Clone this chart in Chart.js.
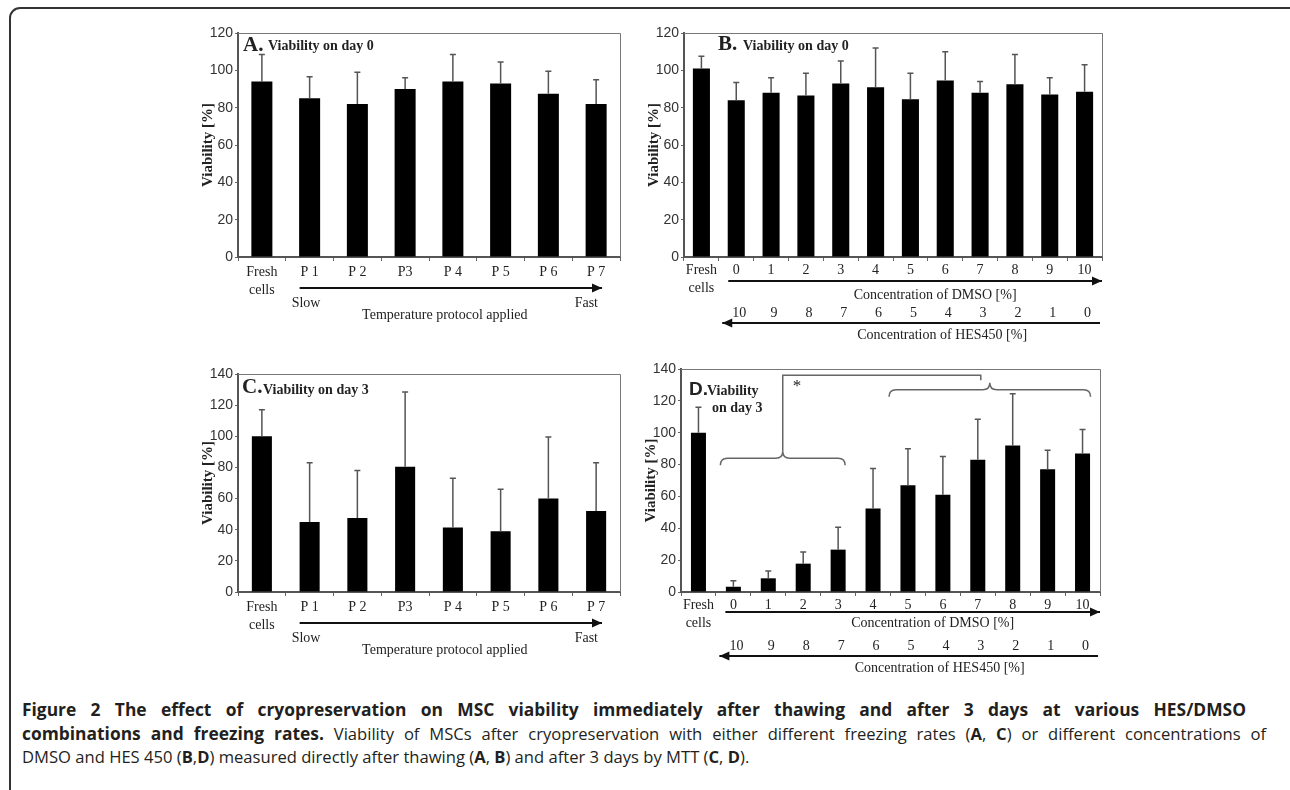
<!DOCTYPE html>
<html>
<head>
<meta charset="utf-8">
<script src="https://cdn.jsdelivr.net/npm/chart.js@4.4.1/dist/chart.umd.min.js"></script>
<style>
body{margin:0;background:#fff;width:1290px;height:790px;overflow:hidden;position:relative}
.frame{position:absolute;left:9px;top:7px;width:1310px;height:820px;border:2px solid #333;border-radius:11px}
.panel{position:absolute}
.caption{position:absolute;left:22px;top:698px;font-family:'Open Sans',sans-serif;font-size:16.6px;line-height:23.5px;color:#231f20;white-space:nowrap}
.caption b{font-size:17.4px}
.caption .j{text-align:justify;text-align-last:justify}
</style>
</head>
<body>
<div class="frame"></div>
<div class="panel" style="left:150px;top:0;width:480px;height:330px"><canvas id="panelA"></canvas></div>
<div class="panel" style="left:600px;top:0;width:520px;height:350px"><canvas id="panelB"></canvas></div>
<div class="panel" style="left:150px;top:340px;width:480px;height:320px"><canvas id="panelC"></canvas></div>
<div class="panel" style="left:600px;top:340px;width:520px;height:350px"><canvas id="panelD"></canvas></div>
<div class="caption">
<div class="j" style="width:1224px"><b>Figure 2 The effect of cryopreservation on MSC viability immediately after thawing and after 3 days at various HES/DMSO</b></div>
<div class="j" style="width:1244px"><b>combinations and freezing rates.</b> Viability of MSCs after cryopreservation with either different freezing rates (<b style="font-size:16.6px">A</b>, <b style="font-size:16.6px">C</b>) or different concentrations of</div>
<div>DMSO and HES 450 (<b style="font-size:16.6px">B</b>,<b style="font-size:16.6px">D</b>) measured directly after thawing (<b style="font-size:16.6px">A</b>, <b style="font-size:16.6px">B</b>) and after 3 days by MTT (<b style="font-size:16.6px">C</b>, <b style="font-size:16.6px">D</b>).</div>
</div>
<script>
// categories
const protocolLabels = [['Fresh', 'cells'], 'P 1', 'P 2', 'P3', 'P 4', 'P 5', 'P 6', 'P 7'];
const dmsoLabels = [['Fresh', 'cells'], '0', '1', '2', '3', '4', '5', '6', '7', '8', '9', '10'];
const hesLabels = ['10', '9', '8', '7', '6', '5', '4', '3', '2', '1', '0'];

// y tick labels
const ticksDay0 = [0, 20, 40, 60, 80, 100, 120];
const ticksDay3 = [0, 20, 40, 60, 80, 100, 120, 140];

// A: viability day 0, temperature protocols (mean, upper SD)
const viabA = [94, 85, 82, 90, 94, 93, 87.5, 82];
const sdA = [14.5, 11.5, 17, 6, 14.5, 11.5, 12, 13];
// B: viability day 0, DMSO/HES
const viabB = [101, 84, 88, 86.5, 93, 91, 84.5, 94.5, 88, 92.5, 87, 88.5];
const sdB = [6.5, 9.5, 8, 12, 12, 21, 14, 15.5, 6, 16, 9, 14.5];
// C: viability day 3, temperature protocols
const viabC = [100, 45, 47.5, 80.5, 41.5, 39, 60, 52];
const sdC = [17, 38, 30.5, 48, 31.5, 27, 39.5, 31];
// D: viability day 3, DMSO/HES
const viabD = [100, 3.3, 8.6, 17.8, 26.6, 52.5, 67, 61, 83, 92, 77, 87];
const sdD = [16, 3.7, 4.6, 7.3, 14, 25, 23, 24, 25.5, 32.5, 12, 15];

const yTitle = 'Viability [%]';
const protocolEnds = ['Slow', 'Fast'];
const protocolTitle = 'Temperature protocol applied';
const dmsoTitle = 'Concentration of DMSO [%]';
const hesTitle = 'Concentration of HES450 [%]';

const serif = 'Liberation Serif';
const lineGrey = '#555';

const panels = {
  panelA: {labels: protocolLabels, values: viabA, sd: sdA, yTicks: ticksDay0, barPct: 0.44, tickPad: 2,
    pad: {left: 52, right: 10, top: 33, bottom: 33},
    letter: 'A.', title: ['Viability on day 0'], letterFont: 'bold 21px ' + serif,
    letterDx: 5, letterDy: 18, titleDx: 30, titleDy: [17], kind: 'protocol'},
  panelB: {labels: dmsoLabels, values: viabB, sd: sdB, yTicks: ticksDay0, barPct: 0.49, tickPad: 0,
    pad: {left: 48, right: 18, top: 33, bottom: 53},
    letter: 'B.', title: ['Viability on day 0'], letterFont: 'bold 21px ' + serif,
    letterDx: 34, letterDy: 17, titleDx: 59, titleDy: [17], kind: 'conc',
    offs: [24, 38, 56, 66, 78]},
  panelC: {labels: protocolLabels, values: viabC, sd: sdC, yTicks: ticksDay3, barPct: 0.42, tickPad: 2,
    pad: {left: 52, right: 10, top: 34, bottom: 28},
    letter: 'C.', title: ['Viability on day 3'], letterFont: 'bold 21px ' + serif,
    letterDx: 4, letterDy: 19, titleDx: 25, titleDy: [20], kind: 'protocol'},
  panelD: {labels: dmsoLabels, values: viabD, sd: sdD, yTicks: ticksDay3, barPct: 0.43, tickPad: 0,
    pad: {left: 45, right: 20, top: 29, bottom: 58},
    letter: 'D.', title: ['Viability', 'on day 3'], letterFont: 'bold 19px Liberation Sans',
    letterDx: 8, letterDy: 26, titleDx: 26, titleDy: [26, 43], titleDx2: 31, kind: 'conc',
    offs: [20, 31, 54, 64, 76], brackets: true}
};

function arrow(ctx, x1, x2, y, dir) {
  ctx.strokeStyle = '#111';
  ctx.fillStyle = '#111';
  ctx.lineWidth = 2;
  ctx.beginPath();
  ctx.moveTo(x1, y);
  ctx.lineTo(x2, y);
  ctx.stroke();
  const tip = dir > 0 ? x2 : x1;
  ctx.beginPath();
  ctx.moveTo(tip, y);
  ctx.lineTo(tip - dir * 10, y - 4.5);
  ctx.lineTo(tip - dir * 10, y + 4.5);
  ctx.closePath();
  ctx.fill();
}

function brace(ctx, x1, x2, y, h) {
  const xm = (x1 + x2) / 2;
  ctx.beginPath();
  ctx.moveTo(x1, y + h);
  ctx.quadraticCurveTo(x1, y, x1 + h, y);
  ctx.lineTo(xm - h, y);
  ctx.quadraticCurveTo(xm, y, xm, y - h);
  ctx.quadraticCurveTo(xm, y, xm + h, y);
  ctx.lineTo(x2 - h, y);
  ctx.quadraticCurveTo(x2, y, x2, y + h);
  ctx.stroke();
  return xm;
}

function drawProtocol(ctx, chart) {
  const a = chart.chartArea, xs = chart.scales.x, yb = a.bottom;
  const x1 = xs.getPixelForValue(1) - 10, x2 = a.right - 18;
  arrow(ctx, x1, x2, yb + 31, 1);
  ctx.fillStyle = '#222';
  ctx.font = '14px ' + serif;
  ctx.textBaseline = 'middle';
  ctx.textAlign = 'left';
  ctx.fillText(protocolEnds[0], x1 - 8, yb + 46);
  ctx.textAlign = 'right';
  ctx.fillText(protocolEnds[1], x2 - 4, yb + 46);
  ctx.textAlign = 'center';
  ctx.fillText(protocolTitle, (x1 + x2) / 2 - 6, yb + 58);
}

function drawConc(ctx, chart, p) {
  const a = chart.chartArea, xs = chart.scales.x, yb = a.bottom, o = p.offs;
  const x1 = xs.getPixelForValue(1) - 8, x2 = a.right;
  arrow(ctx, x1, x2, yb + o[0], 1);
  ctx.fillStyle = '#222';
  ctx.font = '14px ' + serif;
  ctx.textBaseline = 'middle';
  ctx.textAlign = 'center';
  ctx.fillText(dmsoTitle, (x1 + x2) / 2 + 20, yb + o[1]);
  hesLabels.forEach((t, i) => {
    ctx.fillText(t, xs.getPixelForValue(i + 1) + 3, yb + o[2]);
  });
  arrow(ctx, x1 - 6, x2 - 2, yb + o[3], -1);
  ctx.fillStyle = '#222';
  ctx.fillText(hesTitle, (x1 + x2) / 2 + 27, yb + o[4]);
}

function drawBrackets(ctx, chart) {
  const xs = chart.scales.x, ys = chart.scales.y;
  ctx.strokeStyle = '#666';
  ctx.lineWidth = 1.5;
  const yLow = ys.getPixelForValue(84), yTop = ys.getPixelForValue(136), yHigh = ys.getPixelForValue(127);
  const m1 = brace(ctx, xs.getPixelForValue(1) - 13, xs.getPixelForValue(4) + 7, yLow, 7);
  const m2 = brace(ctx, xs.getPixelForValue(5) + 16, xs.getPixelForValue(11) + 8, yHigh, 7);
  ctx.beginPath();
  ctx.moveTo(m1, yLow - 7);
  ctx.lineTo(m1, yTop);
  ctx.lineTo(m2 - 9, yTop);
  ctx.lineTo(m2 - 9, yTop + 5);
  ctx.stroke();
  ctx.fillStyle = '#222';
  ctx.font = '17px ' + serif;
  ctx.textAlign = 'left';
  ctx.textBaseline = 'middle';
  ctx.fillText('*', m1 + 10, ys.getPixelForValue(129));
}

const extrasPlugin = {
  id: 'panelExtras',
  afterDatasetsDraw(chart) {
    const p = panels[chart.canvas.id];
    const ctx = chart.ctx, a = chart.chartArea, ys = chart.scales.y;
    ctx.save();
    // top and right edges of the plot box
    ctx.strokeStyle = '#777';
    ctx.lineWidth = 1;
    ctx.beginPath();
    ctx.moveTo(a.left, a.top + 0.5);
    ctx.lineTo(a.right + 0.5, a.top + 0.5);
    ctx.lineTo(a.right + 0.5, a.bottom);
    ctx.stroke();
    // upper error whiskers
    ctx.strokeStyle = lineGrey;
    ctx.lineWidth = 1.5;
    chart.getDatasetMeta(0).data.forEach((bar, i) => {
      const yt = ys.getPixelForValue(p.values[i] + p.sd[i]);
      ctx.beginPath();
      ctx.moveTo(bar.x, bar.y);
      ctx.lineTo(bar.x, yt);
      ctx.moveTo(bar.x - 3, yt);
      ctx.lineTo(bar.x + 3, yt);
      ctx.stroke();
    });
    // y axis title
    ctx.save();
    ctx.translate(a.left - 30, (a.top + a.bottom) / 2);
    ctx.rotate(-Math.PI / 2);
    ctx.fillStyle = '#222';
    ctx.font = 'bold 15px ' + serif;
    ctx.textAlign = 'center';
    ctx.textBaseline = 'middle';
    ctx.fillText(yTitle, 0, 0);
    ctx.restore();
    // panel title
    ctx.fillStyle = '#222';
    ctx.textAlign = 'left';
    ctx.textBaseline = 'alphabetic';
    ctx.font = p.letterFont;
    ctx.fillText(p.letter, a.left + p.letterDx, a.top + p.letterDy);
    ctx.font = 'bold 14px ' + serif;
    p.title.forEach((t, i) => {
      const dx = i === 0 ? p.titleDx : p.titleDx2;
      ctx.fillText(t, a.left + dx, a.top + p.titleDy[i]);
    });
    if (p.kind === 'protocol') drawProtocol(ctx, chart);
    else drawConc(ctx, chart, p);
    if (p.brackets) drawBrackets(ctx, chart);
    ctx.restore();
  }
};

function makeChart(id) {
  const p = panels[id];
  const yt = p.yTicks;
  return new Chart(document.getElementById(id), {
    type: 'bar',
    data: {
      labels: p.labels,
      datasets: [{
        data: p.values,
        backgroundColor: '#000',
        borderWidth: 0,
        barPercentage: p.barPct,
        categoryPercentage: 1
      }]
    },
    options: {
      responsive: true,
      maintainAspectRatio: false,
      animation: false,
      layout: {padding: p.pad},
      plugins: {legend: {display: false}, tooltip: {enabled: false}},
      scales: {
        x: {
          grid: {drawOnChartArea: false, tickLength: 4, color: '#666'},
          border: {color: lineGrey, width: 2},
          ticks: {font: {family: serif, size: 14, lineHeight: 1.3}, color: '#222', padding: p.tickPad,
                  maxRotation: 0, autoSkip: false},
          afterFit: s => { s.height = 40; }
        },
        y: {
          min: yt[0],
          max: yt[yt.length - 1],
          ticks: {stepSize: yt[1] - yt[0], font: {family: 'Liberation Sans', size: 14}, color: '#333', padding: 2},
          grid: {drawOnChartArea: false, tickLength: 3, color: '#666'},
          border: {color: lineGrey, width: 2},
          afterFit: s => { s.width = 36; }
        }
      }
    },
    plugins: [extrasPlugin]
  });
}

['panelA', 'panelB', 'panelC', 'panelD'].forEach(makeChart);
</script>
</body>
</html>
